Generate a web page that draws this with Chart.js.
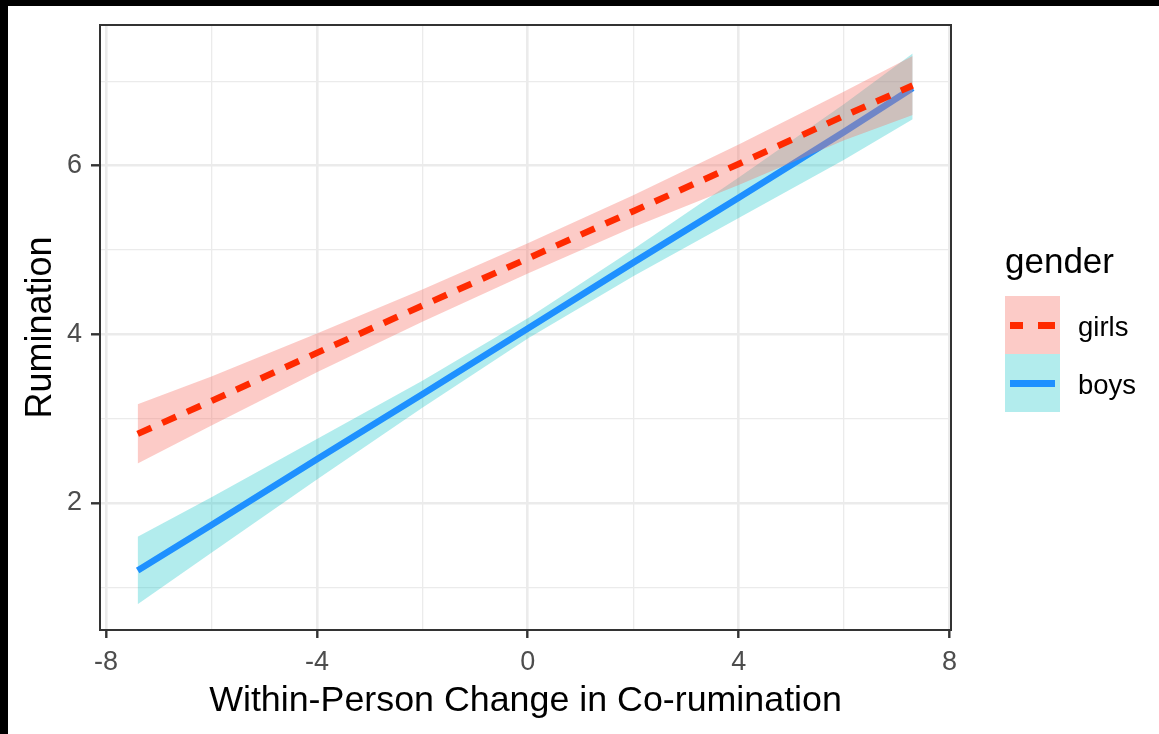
<!DOCTYPE html>
<html>
<head>
<meta charset="utf-8">
<script src="https://cdn.jsdelivr.net/npm/chart.js@4.4.1/dist/chart.umd.min.js"></script>
<style>
  html, body { margin: 0; padding: 0; background: #000; }
  #wrap { position: absolute; left: 8px; top: 6px; width: 1151px; height: 728px; background: #fff; }
  #legend { position: absolute; left: 0; top: 0; font-family: "Liberation Sans", Arial, sans-serif; color: #000; }
  .lg-title { position: absolute; left: 997px; top: 235px; font-size: 35px; line-height: 40px; white-space: nowrap; }
  .lg-key { position: absolute; left: 997px; width: 55px; height: 58px; }
  .lg-label { position: absolute; left: 1070px; font-size: 27.5px; line-height: 30px; white-space: nowrap; }
</style>
</head>
<body>
<div id="wrap">
  <canvas id="myChart" width="1151" height="728"></canvas>
  <div id="legend"></div>
</div>
<script>
// x positions where the fitted lines / ribbons were read
const xs = [-7.4, -6, -4, -2, 0, 2, 4, 6, 7.3];

const girlsFit  = [2.82, 3.21, 3.78, 4.34, 4.90, 5.46, 6.02, 6.59, 6.95];
const girlsLow  = [2.47, 2.92, 3.55, 4.15, 4.72, 5.27, 5.77, 6.30, 6.60];
const girlsHigh = [3.17, 3.50, 4.01, 4.53, 5.08, 5.65, 6.25, 6.88, 7.30];

const boysFit  = [1.20, 1.74, 2.52, 3.29, 4.07, 4.85, 5.62, 6.40, 6.92];
const boysLow  = [0.80, 1.41, 2.28, 3.13, 3.95, 4.69, 5.38, 6.07, 6.55];
const boysHigh = [1.60, 2.07, 2.76, 3.45, 4.19, 5.01, 5.86, 6.73, 7.33];

const legendLabels = ['girls', 'boys'];
const xTitle = 'Within-Person Change in Co-rumination';
const yTitle = 'Rumination';

function pts(ys) {
    return xs.map(function (x, i) { return { x: x, y: ys[i] }; });
}

const FONT = '"Liberation Sans", Arial, sans-serif';

// ggplot-ish panel border drawn on top
const panelBorder = {
    id: 'panelBorder',
    afterDraw(chart) {
        const a = chart.chartArea;
        const c = chart.ctx;
        c.save();
        c.strokeStyle = '#333333';
        c.lineWidth = 2;
        c.strokeRect(a.left, a.top, a.right - a.left, a.bottom - a.top);
        c.restore();
    }
};

var ctx = document.getElementById('myChart');
var myChart = new Chart(ctx, {
    type: 'line',
    data: {
        datasets: [
            {
                label: 'girls',
                data: pts(girlsFit),
                borderColor: '#FF2A00',
                borderWidth: 6.5,
                borderDash: [15, 12],
                pointRadius: 0,
                fill: false
            },
            {
                label: 'girls upper',
                data: pts(girlsHigh),
                borderWidth: 0,
                borderColor: 'rgba(0,0,0,0)',
                backgroundColor: 'rgba(248,118,109,0.38)',
                pointRadius: 0,
                fill: '+1'
            },
            {
                label: 'girls lower',
                data: pts(girlsLow),
                borderWidth: 0,
                borderColor: 'rgba(0,0,0,0)',
                pointRadius: 0,
                fill: false
            },
            {
                label: 'boys',
                data: pts(boysFit),
                borderColor: '#1E90FF',
                borderWidth: 6.5,
                pointRadius: 0,
                fill: false
            },
            {
                label: 'boys upper',
                data: pts(boysHigh),
                borderWidth: 0,
                borderColor: 'rgba(0,0,0,0)',
                backgroundColor: 'rgba(0,191,196,0.3)',
                pointRadius: 0,
                fill: '+1'
            },
            {
                label: 'boys lower',
                data: pts(boysLow),
                borderWidth: 0,
                borderColor: 'rgba(0,0,0,0)',
                pointRadius: 0,
                fill: false
            }
        ]
    },
    options: {
        responsive: false,
        animation: false,
        layout: { padding: { left: 0, top: 19, right: 208, bottom: 0 } },
        plugins: {
            legend: { display: false },
            tooltip: { enabled: false }
        },
        scales: {
            x: {
                type: 'linear',
                min: -8.114,
                max: 8.027,
                afterFit: function (scale) {
                    scale.height = 104;
                    scale.paddingLeft = 0;
                    scale.paddingRight = 0;
                },
                border: { display: false },
                grid: {
                    color: '#EBEBEB',
                    lineWidth: function (c) { return c.tick && c.tick.value % 4 === 0 ? 2.6 : 1.3; },
                    tickLength: 8,
                    tickColor: function (c) { return c.tick && c.tick.value % 4 === 0 ? '#333333' : 'rgba(0,0,0,0)'; },
                    tickWidth: 2.4
                },
                ticks: {
                    stepSize: 2,
                    includeBounds: false,
                    autoSkip: false,
                    maxRotation: 0,
                    padding: 8,
                    color: '#4D4D4D',
                    font: { family: FONT, size: 27 },
                    callback: function (v) { return v % 4 === 0 ? String(v) : ''; }
                },
                title: {
                    display: true,
                    text: xTitle,
                    color: '#000',
                    font: { family: FONT, size: 35.8 },
                    padding: { top: 0, bottom: 11 }
                }
            },
            y: {
                type: 'linear',
                min: 0.495,
                max: 7.667,
                afterFit: function (scale) {
                    scale.width = 92;
                    scale.paddingTop = 0;
                    scale.paddingBottom = 0;
                },
                border: { display: false },
                grid: {
                    color: '#EBEBEB',
                    lineWidth: function (c) { return c.tick && c.tick.value % 2 === 0 ? 2.6 : 1.3; },
                    tickLength: 9,
                    tickColor: function (c) { return c.tick && c.tick.value % 2 === 0 ? '#333333' : 'rgba(0,0,0,0)'; },
                    tickWidth: 2.4
                },
                ticks: {
                    stepSize: 1,
                    includeBounds: false,
                    autoSkip: false,
                    padding: 9,
                    color: '#4D4D4D',
                    font: { family: FONT, size: 27 },
                    callback: function (v) { return v % 2 === 0 ? String(v) : ''; }
                },
                title: {
                    display: true,
                    text: yTitle,
                    color: '#000',
                    font: { family: FONT, size: 36 },
                    padding: { top: 11, bottom: 0 }
                }
            }
        }
    },
    plugins: [panelBorder]
});

// legend (ggplot style key: ribbon box + line)
const lg = document.getElementById('legend');
lg.innerHTML =
    '<div class="lg-title">gender</div>' +
    '<div class="lg-key" style="top:290px;background:rgba(248,118,109,0.38)">' +
      '<div style="position:absolute;left:5px;top:26px;width:13px;height:7px;background:#FF2A00"></div>' +
      '<div style="position:absolute;left:33px;top:26px;width:17px;height:7px;background:#FF2A00"></div>' +
    '</div>' +
    '<div class="lg-key" style="top:348px;background:rgba(0,191,196,0.3)">' +
      '<div style="position:absolute;left:5px;top:26px;width:45px;height:7px;background:#1E90FF"></div>' +
    '</div>' +
    '<div class="lg-label" style="top:306px">' + legendLabels[0] + '</div>' +
    '<div class="lg-label" style="top:364px">' + legendLabels[1] + '</div>';
</script>
</body>
</html>
